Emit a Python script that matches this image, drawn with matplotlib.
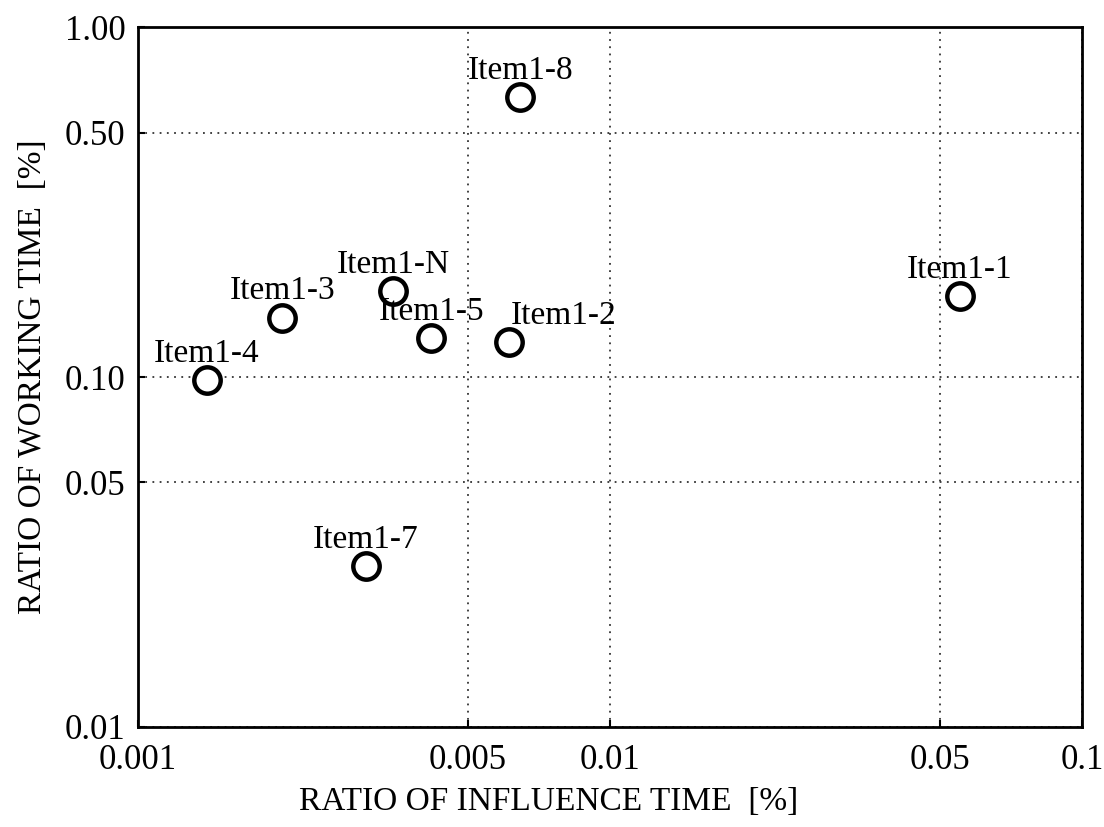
import matplotlib
matplotlib.use("Agg")
import matplotlib.pyplot as plt
from matplotlib.ticker import FixedLocator, FixedFormatter, NullLocator

# データ
labels = ["Item1-8", "Item1-1", "Item1-N", "Item1-3", "Item1-5", "Item1-2", "Item1-4", "Item1-7"]
influence = [0.00645, 0.0551, 0.00347, 0.00202, 0.00418, 0.00611, 0.00140, 0.00304]
working = [0.631, 0.170, 0.176, 0.148, 0.129, 0.126, 0.098, 0.0288]
label_dx = [0, 0, 0, 0, 0, 39, 0, 0]  # ラベルの横ずれ (pt)

x_ticks = [0.001, 0.005, 0.01, 0.05, 0.1]
x_ticklabels = ["0.001", "0.005", "0.01", "0.05", "0.1"]
y_ticks = [0.01, 0.05, 0.1, 0.5, 1.0]
y_ticklabels = ["0.01", "0.05", "0.10", "0.50", "1.00"]

plt.rcParams['font.family'] = ['Liberation Serif', 'DejaVu Serif']

fig = plt.figure(figsize=(11.04, 8.27), dpi=100)
ax = fig.add_axes([0.125, 0.121, 0.855, 0.846])

ax.plot(influence, working, linestyle="none", marker="o", markersize=19,
        markerfacecolor="white", markeredgecolor="black", markeredgewidth=3.2, zorder=3)

for lab, x, y, dx in zip(labels, influence, working, label_dx):
    ax.annotate(lab, (x, y), xytext=(dx, 8), textcoords="offset points",
                ha="center", va="bottom", fontsize=24, zorder=4)

ax.set_xscale("log")
ax.set_yscale("log")
ax.set_xlim(0.001, 0.1)
ax.set_ylim(0.01, 1.0)

ax.xaxis.set_major_locator(FixedLocator(x_ticks))
ax.xaxis.set_major_formatter(FixedFormatter(x_ticklabels))
ax.xaxis.set_minor_locator(NullLocator())
ax.yaxis.set_major_locator(FixedLocator(y_ticks))
ax.yaxis.set_major_formatter(FixedFormatter(y_ticklabels))
ax.yaxis.set_minor_locator(NullLocator())

ax.tick_params(direction="in", length=5, width=1.5, labelsize=25)
ax.tick_params(axis="x", pad=12)
ax.tick_params(axis="y", pad=9)
ax.grid(True, linestyle=(0, (1, 3)), color="#333333", linewidth=1.3)

for sp in ax.spines.values():
    sp.set_linewidth(2)

ax.set_xlabel("RATIO OF INFLUENCE TIME  [%]", fontsize=24, labelpad=7, x=0.435)
ax.set_ylabel("RATIO OF WORKING TIME  [%]", fontsize=24, labelpad=12)

fig.savefig("out.png", dpi=100)
